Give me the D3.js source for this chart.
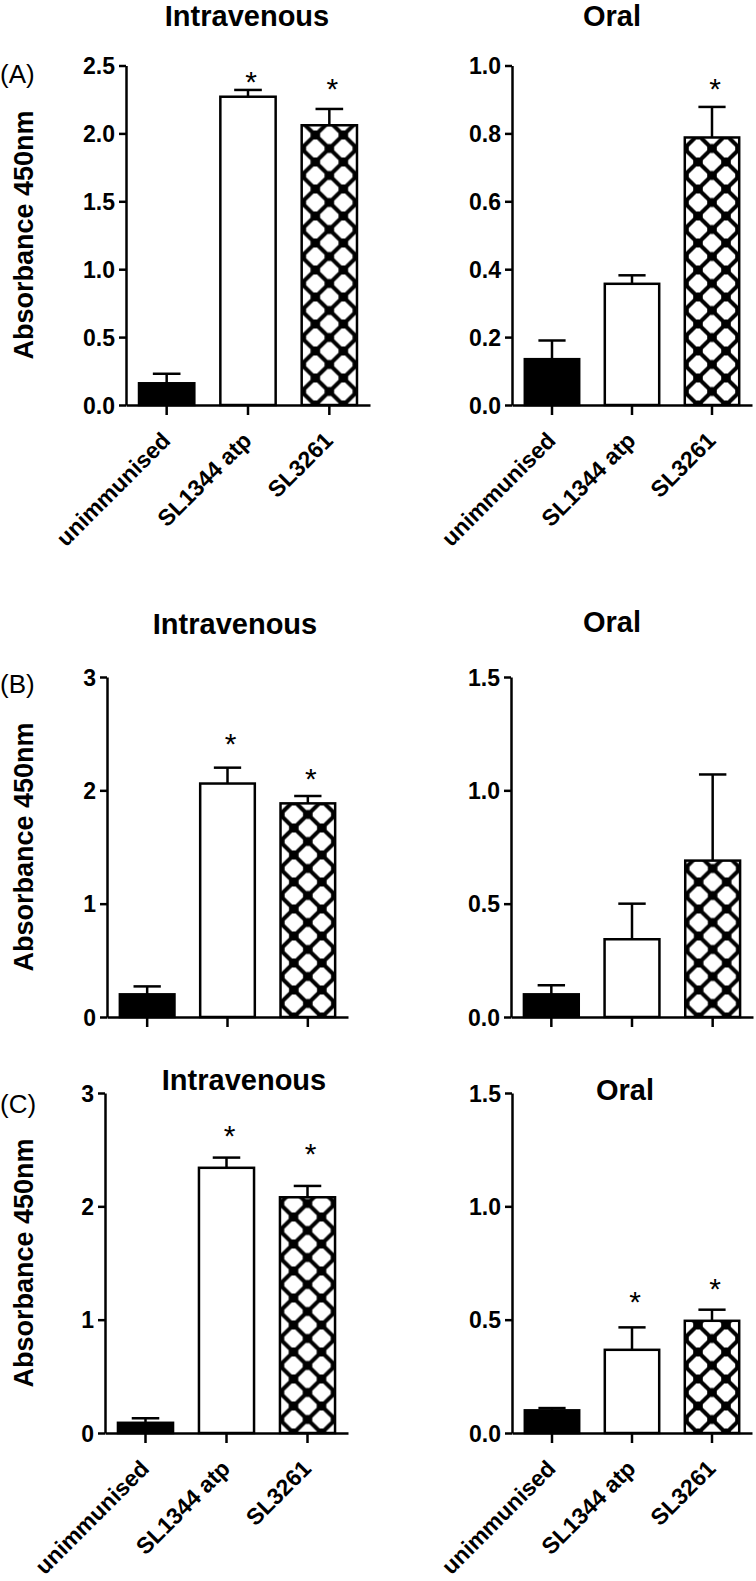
<!DOCTYPE html>
<html><head><meta charset="utf-8">
<script src="https://cdn.jsdelivr.net/npm/d3@7"></script>
<style>body{margin:0;background:#fff} svg{display:block}</style>
</head><body>
<svg id="c" width="756" height="1581"></svg>
<script>
// ---------- data ----------
const categories = ["unimmunised", "SL1344 atp", "SL3261"];

const A_iv_mean = [0.16, 2.27, 2.06];
const A_iv_sem  = [0.07, 0.05, 0.12];
const A_iv_star = [null, 2.43, 2.375];
const A_oral_mean = [0.135, 0.357, 0.788];
const A_oral_sem  = [0.055, 0.025, 0.09];
const A_oral_star = [null, null, 0.95];

const B_iv_mean = [0.20, 2.06, 1.885];
const B_iv_sem  = [0.07, 0.14, 0.065];
const B_iv_star = [null, 2.47, 2.165];
const B_oral_mean = [0.10, 0.343, 0.69];
const B_oral_sem  = [0.04, 0.157, 0.38];
const B_oral_star = [null, null, null];

const C_iv_mean = [0.09, 2.34, 2.08];
const C_iv_sem  = [0.04, 0.09, 0.10];
const C_iv_star = [null, 2.68, 2.525];
const C_oral_mean = [0.10, 0.367, 0.495];
const C_oral_sem  = [0.01, 0.099, 0.049];
const C_oral_star = [null, 0.61, 0.668];

const ticksA_iv = [0, 0.5, 1.0, 1.5, 2.0, 2.5];
const ticksA_oral = [0, 0.2, 0.4, 0.6, 0.8, 1.0];
const ticks_iv3 = [0, 1, 2, 3];
const ticks_oral15 = [0, 0.5, 1.0, 1.5];

const titleIV = "Intravenous", titleOral = "Oral";
const panelLetters = ["(A)", "(B)", "(C)"];
const yAxisTitle = "Absorbance 450nm";

// ---------- layout ----------
const FONT = "'Liberation Sans', Arial, Helvetica, sans-serif";
const panels = [
  {mean:A_iv_mean, sem:A_iv_sem, star:A_iv_star, ticks:ticksA_iv, fmt:".1f", max:2.5,
   x0:126, x1:370, yTop:65.5, y0:405, title:titleIV, tx:247, ty:26, labels:true},
  {mean:A_oral_mean, sem:A_oral_sem, star:A_oral_star, ticks:ticksA_oral, fmt:".1f", max:1.0,
   x0:512, x1:752, yTop:65.5, y0:405, title:titleOral, tx:612, ty:26, labels:true},
  {mean:B_iv_mean, sem:B_iv_sem, star:B_iv_star, ticks:ticks_iv3, fmt:"d", max:3,
   x0:107, x1:348, yTop:677, y0:1017, title:titleIV, tx:235, ty:634, labels:false},
  {mean:B_oral_mean, sem:B_oral_sem, star:B_oral_star, ticks:ticks_oral15, fmt:".1f", max:1.5,
   x0:511, x1:753, yTop:677, y0:1017, title:titleOral, tx:612, ty:632, labels:false},
  {mean:C_iv_mean, sem:C_iv_sem, star:C_iv_star, ticks:ticks_iv3, fmt:"d", max:3,
   x0:105, x1:348, yTop:1093, y0:1433, title:titleIV, tx:244, ty:1090, labels:true},
  {mean:C_oral_mean, sem:C_oral_sem, star:C_oral_star, ticks:ticks_oral15, fmt:".1f", max:1.5,
   x0:512, x1:752, yTop:1093, y0:1433, title:titleOral, tx:625, ty:1100, labels:true}
];
const letterPos = [{y:83},{y:693},{y:1113}];
const rowCenters = [235, 847, 1263];

const svg = d3.select("#c");
const defs = svg.append("defs");
const fills = ["#000", "#fff", null];
const PW = 28, PH = 27, LW = 2.5;

// diamond-like white cell of the lattice pattern
const cellPts = [[9.2,-1.8],[9.2,1.8],[1.8,8.9],[-1.8,8.9],[-9.2,1.8],[-9.2,-1.8],[-1.8,-8.9],[1.8,-8.9]];

panels.forEach((p, i) => {
  const g = svg.append("g");
  const x = d3.scaleBand().domain(categories).range([p.x0, p.x1]).paddingInner(0.32).paddingOuter(0.16);
  const y = d3.scaleLinear().domain([0, p.max]).range([p.y0, p.yTop]);
  const bw = x.bandwidth();

  // pattern for SL3261
  const cx3 = x(categories[2]) + bw / 2;
  const pat = defs.append("pattern").attr("id", "pat" + i)
    .attr("patternUnits", "userSpaceOnUse").attr("width", PW).attr("height", PH)
    .attr("patternTransform", `translate(${cx3},${p.y0 + PH / 2})`);
  pat.append("rect").attr("width", PW).attr("height", PH).attr("fill", "#000");
  [[PW/2,0],[0,PH/2],[PW,PH/2],[PW/2,PH]].forEach(([cx, cy]) => {
    pat.append("path")
      .attr("d", "M" + cellPts.map(([u, v]) => `${cx + u},${cy + v}`).join("L") + "Z")
      .attr("fill", "#fff");
  });

  // bars
  g.selectAll("rect.bar").data(categories).join("rect").attr("class", "bar")
    .attr("x", d => x(d)).attr("width", bw)
    .attr("y", (d, k) => y(p.mean[k])).attr("height", (d, k) => p.y0 - y(p.mean[k]))
    .attr("fill", (d, k) => fills[k] || `url(#pat${i})`)
    .attr("stroke", "#000").attr("stroke-width", LW);

  // error bars (upper)
  const eb = g.selectAll("g.err").data(categories).join("g").attr("class", "err");
  eb.append("line")
    .attr("x1", d => x(d) + bw / 2).attr("x2", d => x(d) + bw / 2)
    .attr("y1", (d, k) => y(p.mean[k])).attr("y2", (d, k) => y(p.mean[k] + p.sem[k]))
    .attr("stroke", "#000").attr("stroke-width", LW);
  eb.append("line")
    .attr("x1", d => x(d) + bw / 2 - bw / 4).attr("x2", d => x(d) + bw / 2 + bw / 4)
    .attr("y1", (d, k) => y(p.mean[k] + p.sem[k])).attr("y2", (d, k) => y(p.mean[k] + p.sem[k]))
    .attr("stroke", "#000").attr("stroke-width", LW);

  // stars
  g.selectAll("text.star").data(categories.filter((d, k) => p.star[k] != null)).join("text")
    .attr("class", "star")
    .attr("x", d => x(d) + bw / 2 + 3)
    .attr("y", d => y(p.star[categories.indexOf(d)]) + 17)
    .attr("text-anchor", "middle").attr("font-family", FONT).attr("font-size", 30)
    .text("*");

  // y axis
  const ya = g.append("g").attr("transform", `translate(${p.x0},0)`)
    .call(d3.axisLeft(y).tickValues(p.ticks).tickFormat(d3.format(p.fmt)).tickSize(7).tickPadding(4).tickSizeOuter(0));
  ya.select(".domain").attr("stroke-width", LW);
  ya.selectAll(".tick line").attr("stroke-width", LW);
  ya.selectAll(".tick text").attr("font-family", FONT).attr("font-weight", "bold").attr("font-size", 23).attr("dy", "0.36em").attr("fill", "#000");

  // x axis
  const xa = g.append("g").attr("transform", `translate(0,${p.y0})`)
    .call(d3.axisBottom(x).tickSize(10).tickSizeOuter(0).tickFormat(""));
  xa.select(".domain").attr("stroke-width", LW);
  xa.selectAll(".tick line").attr("stroke-width", LW);

  // category labels
  if (p.labels) {
    g.selectAll("text.cat").data(categories).join("text").attr("class", "cat")
      .attr("transform", d => `translate(${x(d) + bw / 2 + 5},${p.y0 + 37}) rotate(-45)`)
      .attr("text-anchor", "end").attr("font-family", FONT).attr("font-weight", "bold").attr("font-size", 23)
      .text(d => d);
  }

  // title
  g.append("text").attr("x", p.tx).attr("y", p.ty).attr("text-anchor", "middle")
    .attr("font-family", FONT).attr("font-weight", "bold").attr("font-size", 29).text(p.title);
});

// panel letters and y-axis titles
panelLetters.forEach((t, r) => {
  svg.append("text").attr("x", 0).attr("y", letterPos[r].y)
    .attr("font-family", FONT).attr("font-size", 26).text(t);
  svg.append("text").attr("transform", `translate(33,${rowCenters[r]}) rotate(-90)`)
    .attr("text-anchor", "middle").attr("font-family", FONT).attr("font-weight", "bold").attr("font-size", 27)
    .text(yAxisTitle);
});
</script>
</body></html>
